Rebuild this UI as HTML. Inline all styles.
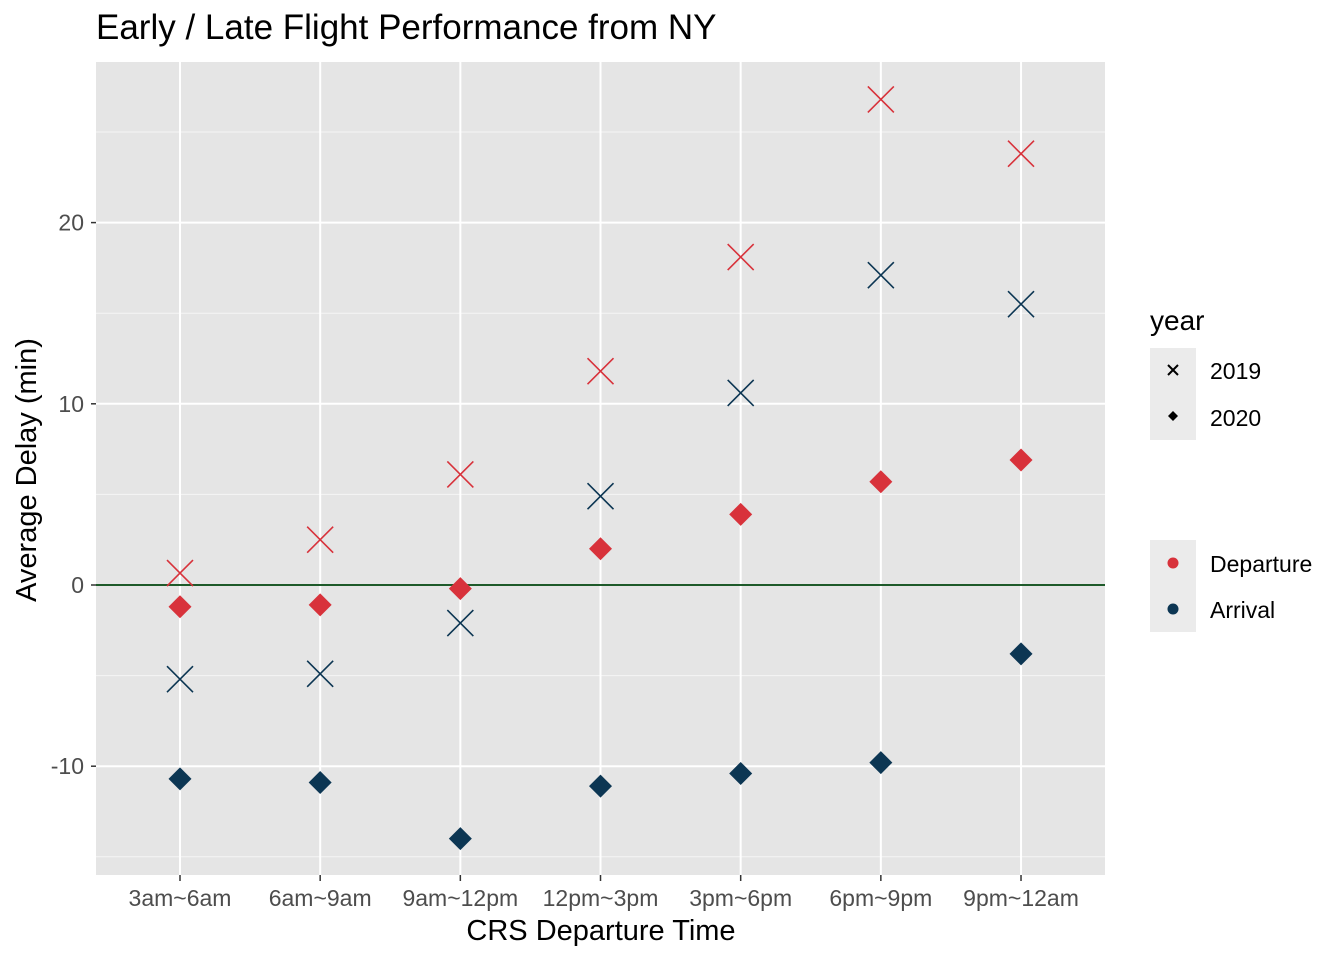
<!DOCTYPE html>
<html><head><meta charset="utf-8"><style>
html,body{margin:0;padding:0;background:#fff;}
svg{display:block;font-family:"Liberation Sans",Arial,sans-serif;}
</style></head><body>
<svg id="chart" width="1344" height="960" viewBox="0 0 1344 960">
<text x="96" y="39" font-size="35" fill="#000">Early / Late Flight Performance from NY</text>
<rect x="96" y="62" width="1009" height="813" fill="#e5e5e5"/>
<g id="grid"></g>
<g id="marks"></g>
<g id="axes"></g>
<text x="601" y="940" font-size="29" text-anchor="middle" fill="#000">CRS Departure Time</text>
<text transform="translate(36,470) rotate(-90)" font-size="29" text-anchor="middle" fill="#000">Average Delay (min)</text>
<g>
<text x="1150" y="330" font-size="28" fill="#000">year</text>
<rect x="1150" y="348" width="46" height="92" fill="#ebebeb"/>
<g><path d="M1168 365 l10 10 M1178 365 l-10 10" stroke="#000" stroke-width="2"/><text x="1210" y="379" font-size="23">2019</text></g>
<g><path d="M1173 411 l5 5 l-5 5 l-5 -5z" fill="#000"/><text x="1210" y="426" font-size="23">2020</text></g>
</g>
<g>
<rect x="1150" y="540" width="46" height="92" fill="#ebebeb"/>
<g><circle cx="1173" cy="563" r="5.5" fill="#d8323b"/><text x="1210" y="572" font-size="23">Departure</text></g>
<g><circle cx="1173" cy="609" r="5.5" fill="#0c3653"/><text x="1210" y="618" font-size="23">Arrival</text></g>
</g>
</svg>
<script>
const categories=["3am~6am","6am~9am","9am~12pm","12pm~3pm","3pm~6pm","6pm~9pm","9pm~12am"];
const dep2019=[0.66,2.5,6.1,11.8,18.1,26.8,23.8];
const arr2019=[-5.2,-4.9,-2.1,4.9,10.6,17.1,15.5];
const dep2020=[-1.2,-1.1,-0.2,2.0,3.9,5.7,6.9];
const arr2020=[-10.7,-10.9,-14.0,-11.1,-10.4,-9.8,-3.8];
const yTicks=[-10,0,10,20];
const yMinor=[-15,-5,5,15,25];
const NS="http://www.w3.org/2000/svg";
const xs=i=>180+i*140.17;
const ys=v=>585-v*18.12;
function mk(tag,attrs,parent){const e=document.createElementNS(NS,tag);for(const k in attrs)e.setAttribute(k,attrs[k]);parent.appendChild(e);return e;}
const grid=document.getElementById('grid'),marks=document.getElementById('marks'),axes=document.getElementById('axes');
yMinor.forEach(v=>{const l=mk('line',{x1:96,x2:1105,y1:ys(v),y2:ys(v),stroke:'#f5f5f5','stroke-width':1},grid);

});
yTicks.forEach(v=>{const l=mk('line',{x1:96,x2:1105,y1:ys(v),y2:ys(v),stroke:'#fff','stroke-width':2},grid);


const t=mk('text',{x:84,y:ys(v)+8,'font-size':23,'text-anchor':'end',fill:'#4d4d4d'},axes);t.textContent=v;


const tk=mk('line',{x1:91,x2:96,y1:ys(v),y2:ys(v),stroke:'#333','stroke-width':1.5},axes);

});
categories.forEach((c,i)=>{const l=mk('line',{x1:xs(i),x2:xs(i),y1:62,y2:875,stroke:'#fff','stroke-width':2},grid);


const t=mk('text',{x:xs(i),y:906,'font-size':23,'text-anchor':'middle',fill:'#4d4d4d'},axes);t.textContent=c;


const tk=mk('line',{x1:xs(i),x2:xs(i),y1:875,y2:881,stroke:'#333','stroke-width':1.5},axes);

});
const zl=mk('line',{x1:96,x2:1105,y1:ys(0),y2:ys(0),stroke:'#1e5a2a','stroke-width':2},marks);


function cross(arr,col,name){arr.forEach((v,i)=>{const x=xs(i),y=ys(v),s=13;
const p=mk('path',{d:`M${x-s} ${y-s}L${x+s} ${y+s}M${x+s} ${y-s}L${x-s} ${y+s}`,stroke:col,'stroke-width':1.6,fill:'none'},marks);

});}
function diamond(arr,col,name){arr.forEach((v,i)=>{const x=xs(i),y=ys(v),s=11.5;
const p=mk('path',{d:`M${x} ${y-s}L${x+s} ${y}L${x} ${y+s}L${x-s} ${y}Z`,fill:col},marks);

});}
cross(dep2019,'#d8323b','point-departure-2019');
cross(arr2019,'#0c3653','point-arrival-2019');
diamond(dep2020,'#d8323b','point-departure-2020');
diamond(arr2020,'#0c3653','point-arrival-2020');
</script>
</body></html>
